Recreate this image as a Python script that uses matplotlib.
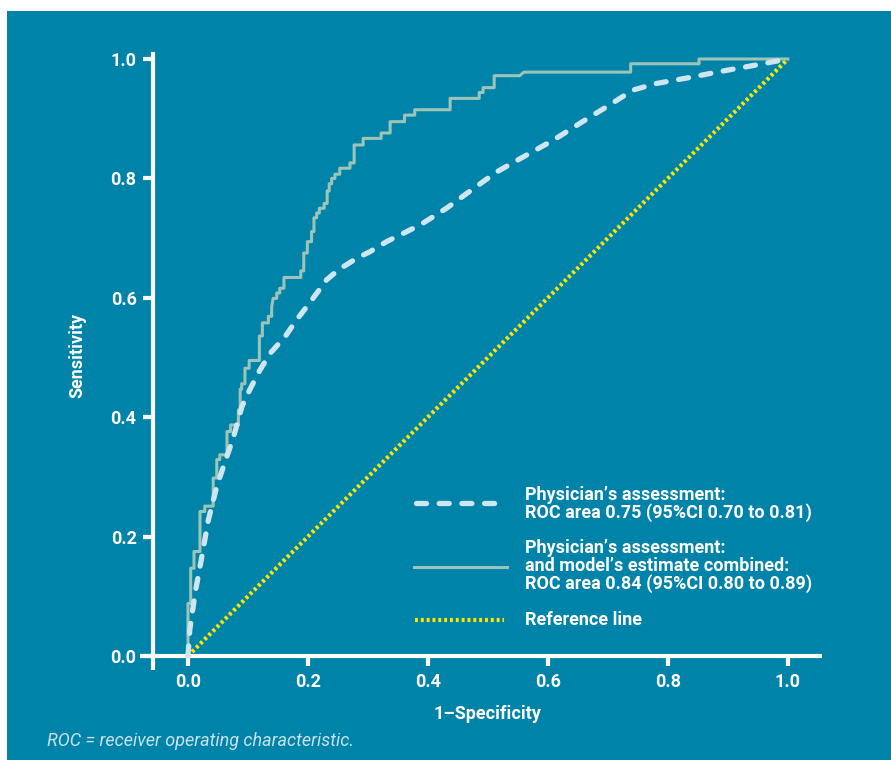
import matplotlib
matplotlib.use("Agg")
import matplotlib.pyplot as plt
from matplotlib.lines import Line2D
from matplotlib.patches import Rectangle

# ROC curve
# Physician's assessment (smooth, dashed)
phys_fpr = [0.0, 0.003, 0.012, 0.023, 0.034, 0.048, 0.059, 0.076, 0.090, 0.103,
            0.120, 0.137, 0.162, 0.181, 0.198, 0.215, 0.231, 0.251, 0.281, 0.303,
            0.331, 0.359, 0.387, 0.431, 0.476, 0.515, 0.559, 0.609, 0.653, 0.698,
            0.720, 0.742, 0.781, 0.831, 0.887, 0.942, 1.0]
phys_tpr = [0.0, 0.044, 0.106, 0.166, 0.228, 0.284, 0.317, 0.367, 0.418, 0.446,
            0.479, 0.507, 0.535, 0.563, 0.585, 0.608, 0.630, 0.647, 0.666, 0.677,
            0.694, 0.708, 0.722, 0.750, 0.783, 0.811, 0.836, 0.864, 0.892, 0.920,
            0.934, 0.948, 0.959, 0.968, 0.979, 0.989, 1.0]

# Physician's assessment and model's estimate combined (staircase)
comb_fpr = [0.0, 0.0, 0.0045, 0.0045, 0.010, 0.010, 0.020, 0.020, 0.028, 0.028,
            0.042, 0.042, 0.048, 0.048, 0.053, 0.053, 0.065, 0.065, 0.071, 0.071,
            0.084, 0.084, 0.087, 0.087, 0.0895, 0.0895, 0.095, 0.095, 0.102, 0.102,
            0.119, 0.119, 0.124, 0.124, 0.134, 0.134, 0.1395, 0.1395, 0.142, 0.148,
            0.148, 0.153, 0.153, 0.160, 0.160, 0.188, 0.188, 0.193, 0.193, 0.199,
            0.199, 0.206, 0.206, 0.210, 0.210, 0.2145, 0.2145, 0.219, 0.219, 0.227,
            0.227, 0.232, 0.232, 0.2355, 0.2355, 0.2395, 0.2395, 0.245, 0.245, 0.253,
            0.253, 0.270, 0.270, 0.277, 0.277, 0.292, 0.292, 0.322, 0.322, 0.337,
            0.337, 0.361, 0.361, 0.378, 0.378, 0.437, 0.437, 0.4855, 0.4855, 0.492,
            0.492, 0.5105, 0.5105, 0.553, 0.560, 0.738, 0.738, 0.852, 0.852, 1.0]
comb_tpr = [0.0, 0.088, 0.088, 0.147, 0.147, 0.175, 0.175, 0.242, 0.242, 0.251,
            0.251, 0.298, 0.298, 0.329, 0.329, 0.337, 0.337, 0.376, 0.376, 0.387,
            0.387, 0.412, 0.412, 0.447, 0.447, 0.456, 0.456, 0.482, 0.482, 0.495,
            0.495, 0.536, 0.536, 0.558, 0.558, 0.569, 0.569, 0.585, 0.599, 0.599,
            0.608, 0.608, 0.616, 0.616, 0.634, 0.634, 0.645, 0.645, 0.675, 0.675,
            0.694, 0.694, 0.711, 0.711, 0.734, 0.734, 0.742, 0.742, 0.750, 0.750,
            0.758, 0.758, 0.779, 0.779, 0.791, 0.791, 0.800, 0.800, 0.807, 0.807,
            0.817, 0.817, 0.826, 0.826, 0.856, 0.856, 0.867, 0.867, 0.876, 0.876,
            0.895, 0.895, 0.906, 0.906, 0.915, 0.915, 0.934, 0.934, 0.944, 0.944,
            0.952, 0.952, 0.972, 0.972, 0.978, 0.978, 0.992, 0.992, 1.0, 1.0]

ref_x = [0.0, 1.0]
ref_y = [0.0, 1.0]

ticks = [0.0, 0.2, 0.4, 0.6, 0.8, 1.0]
tick_labels = ["0.0", "0.2", "0.4", "0.6", "0.8", "1.0"]

legend_labels = [
    "Physician\u2019s assessment:\nROC area 0.75 (95%CI 0.70 to 0.81)",
    "Physician\u2019s assessment:\nand model\u2019s estimate combined:\nROC area 0.84 (95%CI 0.80 to 0.89)",
    "Reference line",
]

TEAL = "#0083a8"
DASH_COL = "#cfe6f0"
SOLID_COL = "#9dc4b8"
YELLOW = "#ffe600"
FONT = "Roboto"
FS = 13

W, H = 891, 760
fig = plt.figure(figsize=(W / 100, H / 100), dpi=100)
fig.patch.set_facecolor("white")
fig.add_artist(Rectangle((7 / W, 0), 1 - 7 / W, 1 - 11 / H, transform=fig.transFigure,
                         facecolor=TEAL, edgecolor="none", zorder=0))

ax = fig.add_axes([140 / W, 1 - 670 / H, (822 - 140) / W, (670 - 52) / H])
ax.set_facecolor("none")
ax.set_xlim(-0.08, 1.057)
ax.set_ylim(-0.0235, 1.0117)

dash_style = (0, (1.9, 2.4))
dot_style = (0, (0.7, 0.7))

ax.plot(ref_x, ref_y, color=YELLOW, lw=3.0, linestyle=dot_style, zorder=3)
ax.plot(comb_fpr, comb_tpr, color=SOLID_COL, lw=2.2, zorder=4)
ax.plot(phys_fpr, phys_tpr, color=DASH_COL, lw=3.8, linestyle=dash_style,
        dash_capstyle="round", zorder=5)

for side in ["top", "right"]:
    ax.spines[side].set_visible(False)
ax.spines["left"].set_position(("data", -0.058))
ax.spines["bottom"].set_position(("data", 0.0))
for side in ["left", "bottom"]:
    ax.spines[side].set_color("white")
    ax.spines[side].set_linewidth(3.0)
    ax.spines[side].set_capstyle("butt")

ax.set_xticks(ticks)
ax.set_xticklabels(tick_labels)
ax.set_yticks(ticks)
ax.set_yticklabels(tick_labels)
ax.tick_params(axis="both", colors="white", length=7, width=3.0, direction="out",
               labelsize=FS, pad=5)
for lab in ax.get_xticklabels() + ax.get_yticklabels():
    lab.set_fontweight("bold")
    lab.set_family(FONT)

fig.text(77 / W, 1 - 355 / H, "Sensitivity", rotation=90, color="white",
         fontsize=FS, fontweight="bold", family=FONT, ha="center", va="center")
fig.text(487 / W, 1 - 714 / H, "1\u2013Specificity", color="white",
         fontsize=FS, fontweight="bold", family=FONT, ha="center", va="center")

# legend drawn by hand
handles = [
    dict(color=DASH_COL, lw=3.8, linestyle=dash_style, dash_capstyle="round", x0=416, x1=503, y=503),
    dict(color=SOLID_COL, lw=2.2, linestyle="-", x0=414, x1=507, y=567),
    dict(color=YELLOW, lw=3.0, linestyle=dot_style, x0=415, x1=504, y=620),
]
text_y = [504, 566, 620]
for h, label, ty in zip(handles, legend_labels, text_y):
    extra = {k: v for k, v in h.items() if k in ("dash_capstyle",)}
    fig.add_artist(Line2D([h["x0"] / W, h["x1"] / W], [1 - h["y"] / H, 1 - h["y"] / H],
                          transform=fig.transFigure, color=h["color"], lw=h["lw"],
                          linestyle=h["linestyle"], **extra))
    fig.text(525 / W, 1 - ty / H, label, color="white", fontsize=FS,
             fontweight="bold", family=FONT, ha="left", va="center", linespacing=1.0)

fig.text(47 / W, 1 - 741 / H, "ROC = receiver operating characteristic.",
         color="#c9e1ea", fontsize=13, fontstyle="italic",
         family=FONT, ha="left", va="center")

fig.savefig("out.png", dpi=100, facecolor=fig.get_facecolor())
